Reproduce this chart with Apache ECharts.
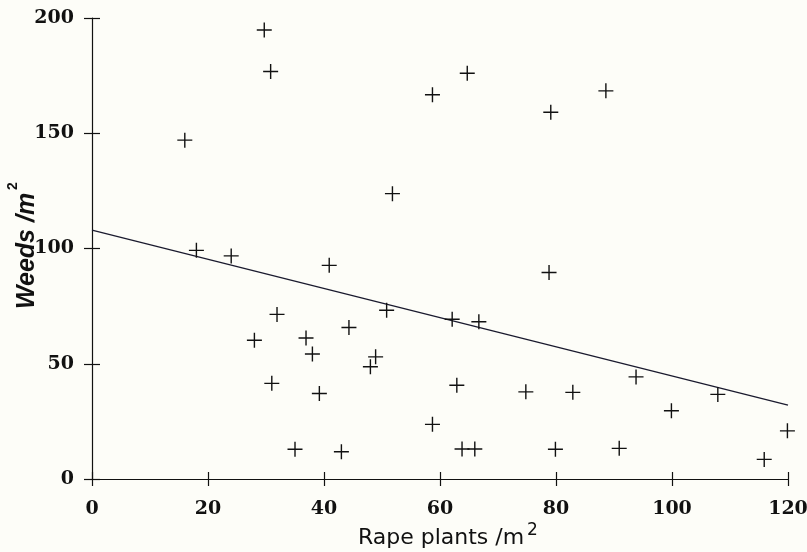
<!DOCTYPE html>
<html><head><meta charset="utf-8">
<script src="https://cdn.jsdelivr.net/npm/echarts@6/dist/echarts.min.js"></script>
<style>html,body{margin:0;padding:0;background:#fdfdf8;}#c{width:807px;height:552px;}</style>
</head><body><div id="c"></div>
<script>
const rapePlants = [16,18,24,28,29.7,30.8,31,31.9,35,36.9,38,39.2,40.9,43,44.3,48,48.9,50.8,51.8,58.7,58.7,62.1,62.9,63.8,64.7,66,66.7,74.8,78.8,79.1,79.9,82.9,88.6,90.9,93.8,99.9,107.9,115.9,119.9];
const weeds =      [147,99.2,96.8,60.2,194.8,176.8,41.5,71.4,12.9,61.2,54.2,37.1,92.7,11.8,65.7,48.7,53,73.2,123.8,166.7,23.7,69.3,40.7,13,176,13,68.2,37.8,89.6,159.1,12.9,37.6,168.4,13.3,44.3,29.6,36.7,8.5,20.9];
const fitX = [0,120];
const fitY = [108,32];
const xTicks = [0,20,40,60,80,100,120];
const yTicks = [0,50,100,150,200];
const xTitle = 'Rape plants /m';
const yTitle = 'Weeds /m';
const unitPower = '2';

const points = rapePlants.map((x,i)=>[x,weeds[i]]);
const fit = fitX.map((x,i)=>[x,fitY[i]]);
const plus = 'path://M6.8,0H8.2V6.8H15V8.2H8.2V15H6.8V8.2H0V6.8H6.8Z';
const numFont = {fontFamily:'DejaVu Serif',fontWeight:'bold',fontSize:19,color:'#111'};

const chart = echarts.init(document.getElementById('c'));
const xBase = {type:'value',min:0,max:120,interval:20,splitLine:{show:false}};
const yBase = {type:'value',min:0,max:200,interval:50,splitLine:{show:false}};
chart.setOption({
  backgroundColor:'#fdfdf8',
  animation:false,
  grid:{left:92,right:19,top:18,bottom:73,outerBoundsMode:'none',containLabel:false},
  graphic:[
    {type:'text',x:441,y:538,silent:true,style:{text:xTitle,fontFamily:'DejaVu Sans',fontSize:22,fill:'#111',align:'center',verticalAlign:'middle'}},
    {type:'text',x:527,y:531,silent:true,style:{text:unitPower,fontFamily:'DejaVu Sans',fontSize:17,fill:'#111',align:'left',verticalAlign:'middle'}},
    {type:'text',x:27,y:251,rotation:Math.PI/2,silent:true,style:{text:yTitle,fontFamily:'Liberation Sans',fontWeight:'bold',fontStyle:'italic',fontSize:25,fill:'#111',align:'center',verticalAlign:'middle'}},
    {type:'text',x:13,y:186,rotation:Math.PI/2,silent:true,style:{text:unitPower,fontFamily:'Liberation Sans',fontWeight:'bold',fontSize:14,fill:'#111',align:'center',verticalAlign:'middle'}}
  ],
  xAxis:[
    Object.assign({},xBase,{
      position:'bottom',
      axisLine:{show:true,onZero:false,lineStyle:{color:'#111',width:1.2}},
      axisTick:{show:true,length:7,lineStyle:{color:'#111',width:1.2}},
      axisLabel:Object.assign({margin:21,formatter:v=>xTicks.includes(v)?String(v):''},numFont)
    }),
    Object.assign({},xBase,{
      position:'bottom',
      axisLine:{show:false,onZero:false},
      axisTick:{show:true,inside:true,length:7,lineStyle:{color:'#111',width:1.2}},
      axisLabel:{show:false}
    })
  ],
  yAxis:[
    Object.assign({},yBase,{
      position:'left',
      axisLine:{show:true,onZero:false,lineStyle:{color:'#111',width:1.2}},
      axisTick:{show:true,length:8,lineStyle:{color:'#111',width:1.2}},
      axisLabel:Object.assign({margin:18,formatter:v=>yTicks.includes(v)?String(v):''},numFont)
    }),
    Object.assign({},yBase,{
      position:'left',
      axisLine:{show:false,onZero:false},
      axisTick:{show:true,inside:true,length:8,lineStyle:{color:'#111',width:1.2}},
      axisLabel:{show:false}
    })
  ],
  series:[
    {type:'line',data:fit,showSymbol:false,symbol:'none',lineStyle:{color:'#1a1a2e',width:1.3},xAxisIndex:0,yAxisIndex:0,z:2},
    {type:'scatter',data:points,symbol:plus,symbolSize:15,itemStyle:{color:'#111',opacity:1},xAxisIndex:0,yAxisIndex:0,z:3}
  ]
});
</script></body></html>
